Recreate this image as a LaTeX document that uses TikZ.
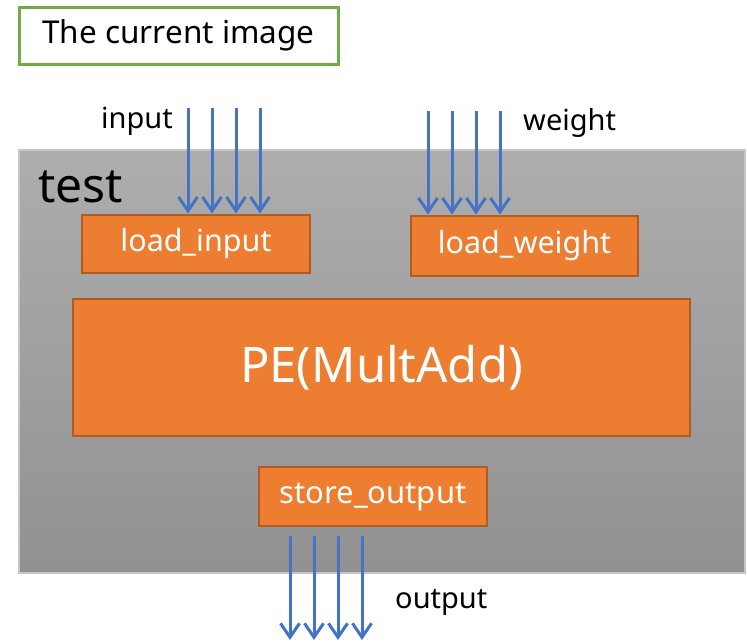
\documentclass[tikz,border=0pt]{standalone}
\usepackage{fontspec}
\setmainfont{Noto Sans}
\usetikzlibrary{arrows.meta}
\definecolor{titlegreen}{HTML}{70AD47}
\definecolor{blockorange}{HTML}{ED7D31}
\definecolor{blockedge}{HTML}{B05B22}
\definecolor{wireblue}{HTML}{4472C4}
\tikzset{
  block/.style={draw=blockedge, line width=2.8pt, fill=blockorange, text=white, inner sep=0pt},
  wire/.style={wireblue, line width=3pt, -{Straight Barb[length=14pt,width=19pt]}},
  lbl/.style={inner sep=0pt, font=\fontsize{29}{34}\selectfont}
}

\begin{document}
\begin{tikzpicture}[x=1pt, y=-1pt]
\useasboundingbox (0,0) rectangle (747,641);
% title
\node[draw=titlegreen, line width=3pt, minimum width=319pt, minimum height=57pt, inner sep=0pt, font=\fontsize{31.5}{36}\selectfont] (title) at (178.5,35.5) {The current image};
% test module
\node[draw=gray!45, line width=1.5pt, top color=black!32, bottom color=black!43, minimum width=726pt, minimum height=423pt, inner sep=0pt] (test) at (382,361.5) {};
\node[anchor=base west, inner sep=0pt, font=\fontsize{48}{52}\selectfont] (testlbl) at (38,202) {test};
% blocks
\node[block, minimum width=228pt, minimum height=58pt, font=\fontsize{30.5}{34}\selectfont] (loadin) at (196,244) {load\_input};
\node[block, minimum width=227pt, minimum height=60pt, font=\fontsize{30.5}{34}\selectfont] (loadw) at (524.5,246) {load\_weight};
\node[block, minimum width=617pt, minimum height=137pt, font=\fontsize{49}{54}\selectfont] (pe) at (381.5,367.5) {PE(MultAdd)};
\node[block, minimum width=228pt, minimum height=59pt, font=\fontsize{31}{34}\selectfont] (store) at (373,496.5) {store\_output};
% wires
\foreach \i in {0,...,3} {
  \coordinate (in\i) at (188+24*\i,108);
  \draw[wire] (in\i) -- (in\i |- loadin.north);
  \coordinate (w\i) at (428+24*\i,111);
  \draw[wire] (w\i) -- (w\i |- loadw.north);
  \coordinate (out\i) at (290+24*\i,640);
  \draw[wire, shorten <=9pt] (out\i |- store.south) -- (out\i);
}
\node[lbl, anchor=east] (inlbl) at (173,121) {input};
\node[lbl, anchor=west] (wlbl) at (523,123) {weight};
\node[lbl, anchor=west] (outlbl) at (395,602) {output};
\end{tikzpicture}
\end{document}
